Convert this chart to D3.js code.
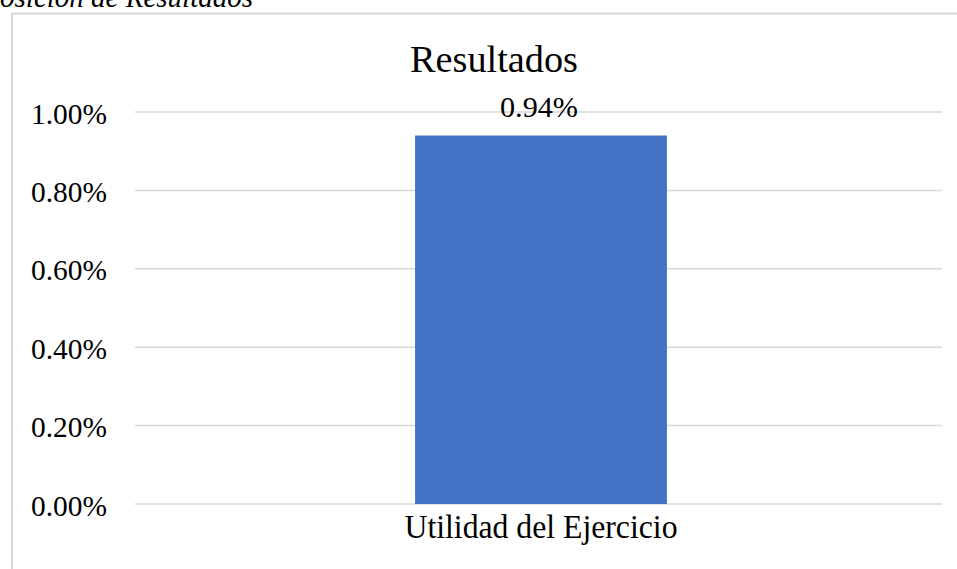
<!DOCTYPE html>
<html>
<head>
<meta charset="utf-8">
<script src="https://cdn.jsdelivr.net/npm/d3@7"></script>
<style>
  body { margin: 0; background: #fff; }
  svg { font-family: "Liberation Serif", "Times New Roman", serif; }
</style>
</head>
<body>
<svg id="chart" width="957" height="569"></svg>
<script>
const categories = ["Utilidad del Ejercicio"];
const values = [0.0094];
const yTicks = [0, 0.002, 0.004, 0.006, 0.008, 0.01];
const chartTitle = "Resultados";
const captionText = "Composición de Resultados";

let svg = d3.select("#chart");
const fmt = d3.format(".2%");
const serif = "'Liberation Serif', 'Times New Roman', serif";

// caption above the chart frame, clipped at the top
svg.append("text")
   .attr("x", 253)
   .attr("y", 7)
   .attr("text-anchor", "end")
   .style("font-style", "italic")
   .style("font-size", "29px")
   .attr("fill", "#000")
   .text(captionText);

// chart frame
svg.append("rect")
   .attr("x", 12)
   .attr("y", 13.5)
   .attr("width", 960)
   .attr("height", 600)
   .attr("fill", "none")
   .attr("stroke", "#d9d9d9")
   .attr("stroke-width", 2);

let x = d3.scaleBand().domain(categories).range([140, 942]).padding(0.522);
let y = d3.scaleLinear().domain([0, 0.01]).range([504, 112]);

// gridlines
svg.append("g")
   .selectAll("line")
   .data(yTicks)
   .enter().append("line")
   .attr("x1", 135)
   .attr("x2", 942)
   .attr("y1", d => y(d))
   .attr("y2", d => y(d))
   .attr("stroke", "#d9d9d9")
   .attr("stroke-width", 1.5);

// y axis labels
let yAxis = svg.append("g")
   .attr("transform", "translate(107,0)")
   .call(d3.axisLeft(y).tickValues(yTicks).tickFormat(fmt).tickSize(0).tickPadding(0));
yAxis.select(".domain").remove();
yAxis.selectAll("text")
   .attr("dy", 11)
   .attr("textLength", 76)
   .attr("lengthAdjust", "spacingAndGlyphs")
   .style("font-family", serif)
   .style("font-size", "30px")
   .attr("fill", "#000");

// bars
svg.selectAll(".bar")
   .data(values)
   .enter().append("rect")
   .attr("class", "bar")
   .attr("x", (d, i) => x(categories[i]))
   .attr("width", x.bandwidth())
   .attr("y", d => y(d))
   .attr("height", d => y(0) - y(d))
   .attr("fill", "#4472c4");

// value labels
svg.selectAll(".val")
   .data(values)
   .enter().append("text")
   .attr("class", "val")
   .attr("x", (d, i) => x(categories[i]) + x.bandwidth() / 2 - 2)
   .attr("y", d => y(d) - 19)
   .attr("text-anchor", "middle")
   .attr("textLength", 78)
   .attr("lengthAdjust", "spacingAndGlyphs")
   .style("font-size", "30px")
   .text(d => fmt(d));

// x axis labels
let xAxis = svg.append("g")
   .attr("transform", "translate(0,504)")
   .call(d3.axisBottom(x).tickSize(0).tickPadding(0));
xAxis.select(".domain").remove();
xAxis.selectAll("text")
   .attr("dy", 34)
   .attr("textLength", 273)
   .attr("lengthAdjust", "spacingAndGlyphs")
   .style("font-family", serif)
   .style("font-size", "33px")
   .attr("fill", "#000");

// title
svg.append("text")
   .attr("x", 494)
   .attr("y", 72)
   .attr("text-anchor", "middle")
   .attr("textLength", 168)
   .attr("lengthAdjust", "spacingAndGlyphs")
   .style("font-size", "37px")
   .text(chartTitle);
</script>
</body>
</html>
